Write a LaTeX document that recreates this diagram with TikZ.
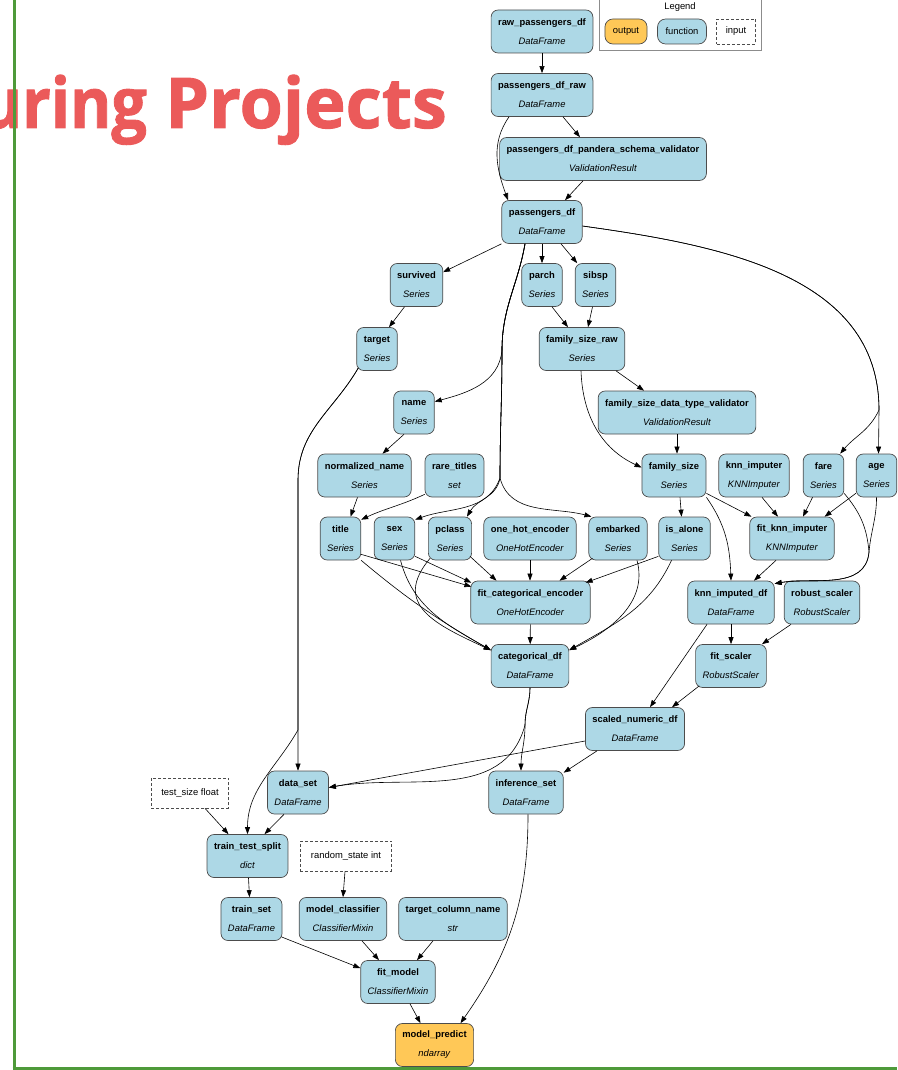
\documentclass[tikz,border=0pt]{standalone}
\usepackage{fontspec}
\setmainfont{Liberation Sans}
\newfontfamily\titlefont{Open Sans}[BoldFeatures={FakeBold=1.3}]
\usetikzlibrary{arrows.meta,positioning}
\definecolor{fnblue}{HTML}{ADD8E6}
\definecolor{outgold}{HTML}{FFC857}
\definecolor{framegreen}{HTML}{4E9A3A}
\definecolor{titlered}{HTML}{EB5A5A}
\tikzset{>={Triangle[length=7pt,width=5pt]}}
\tikzset{fn/.style={draw=black!70, line width=0.7pt, fill=fnblue, rounded corners=7pt, minimum height=43pt, inner xsep=7pt, align=center, font=\fontsize{9.4}{19}\selectfont}}
\tikzset{outfn/.style={fn, fill=outgold}}
\tikzset{inp/.style={draw=black!70, dash pattern=on 3pt off 2pt, line width=0.7pt, fill=white, minimum height=30pt, inner xsep=10pt, font=\fontsize{9.4}{11}\selectfont}}
\tikzset{pill/.style={draw=black!70, line width=0.7pt, rounded corners=8pt, minimum height=25pt, inner xsep=8pt, font=\fontsize{9.4}{11}\selectfont}}
\tikzset{legendbox/.style={draw=black!45, line width=0.8pt, minimum width=162pt, minimum height=54pt, inner sep=0pt}}
\tikzset{link/.style={->, line width=0.6pt}}
\newcommand{\fnlabel}[2]{\textbf{#1}\\\textit{#2}}

\begin{document}
\begin{tikzpicture}[x=1pt,y=1pt]
      \useasboundingbox (0,0) rectangle (897,-1070);
      \clip (0,0) rectangle (897,-1070);
      \node[anchor=base east, inner sep=0pt, text=titlered, font=\titlefont\bfseries\fontsize{70}{70}\selectfont] (heading) at (447,-128) {\scalebox{0.9}[1]{turing} Projects};
      \draw[framegreen, line width=3.5pt] (14.3,0) -- (14.3,-1070);
      \draw[framegreen, line width=3pt] (12.5,-1068.5) -- (897,-1068.5);

      \node[legendbox] (legend) at (680,-23) {};
      \node[font=\fontsize{9.4}{11}\selectfont] (legendtitle) at (680,-7) {Legend};
      \node[pill, fill=outgold] (legout) at (626,-31.5) {output};
      \node[pill, fill=fnblue] (legfn) at (682,-31.5) {function};
      \node[inp, minimum height=25pt, inner xsep=9pt] (leginp) at (736,-31.5) {input};

      \node[fn] (rawdf) at (542,-31.5) {\fnlabel{raw\_passengers\_df}{DataFrame}};
      \node[fn] (dfraw) at (542,-95) {\fnlabel{passengers\_df\_raw}{DataFrame}};
      \node[fn] (pandera) at (603,-159) {\fnlabel{passengers\_df\_pandera\_schema\_validator}{ValidationResult}};
      \node[fn] (df) at (542,-222) {\fnlabel{passengers\_df}{DataFrame}};
      \node[fn] (survived) at (416.5,-285) {\fnlabel{survived}{Series}};
      \node[fn] (parch) at (542,-285) {\fnlabel{parch}{Series}};
      \node[fn] (sibsp) at (595.5,-285) {\fnlabel{sibsp}{Series}};
      \node[fn] (target) at (377,-349) {\fnlabel{target}{Series}};
      \node[fn] (famraw) at (582,-349) {\fnlabel{family\_size\_raw}{Series}};
      \node[fn] (namenode) at (414,-412.5) {\fnlabel{name}{Series}};
      \node[fn] (famcheck) at (677,-412.5) {\fnlabel{family\_size\_data\_type\_validator}{ValidationResult}};
      \node[fn] (normname) at (364.5,-475.5) {\fnlabel{normalized\_name}{Series}};
      \node[fn] (raretitles) at (454.5,-475.5) {\fnlabel{rare\_titles}{set}};
      \node[fn] (famsize) at (674,-475.5) {\fnlabel{family\_size}{Series}};
      \node[fn] (knnimputer) at (754,-475.5) {\fnlabel{knn\_imputer}{KNNImputer}};
      \node[fn] (fare) at (823.5,-475.5) {\fnlabel{fare}{Series}};
      \node[fn] (age) at (876.5,-475.5) {\fnlabel{age}{Series}};
      \node[fn] (title) at (340.5,-538.5) {\fnlabel{title}{Series}};
      \node[fn] (sex) at (394.5,-538.5) {\fnlabel{sex}{Series}};
      \node[fn] (pclass) at (450,-538.5) {\fnlabel{pclass}{Series}};
      \node[fn] (onehot) at (530,-538.5) {\fnlabel{one\_hot\_encoder}{OneHotEncoder}};
      \node[fn] (embarked) at (618,-538.5) {\fnlabel{embarked}{Series}};
      \node[fn] (isalone) at (684.5,-538.5) {\fnlabel{is\_alone}{Series}};
      \node[fn] (fitknn) at (792,-538.5) {\fnlabel{fit\_knn\_imputer}{KNNImputer}};
      \node[fn] (fitenc) at (530.5,-602.5) {\fnlabel{fit\_categorical\_encoder}{OneHotEncoder}};
      \node[fn] (knndf) at (731,-602.5) {\fnlabel{knn\_imputed\_df}{DataFrame}};
      \node[fn] (robust) at (822,-602.5) {\fnlabel{robust\_scaler}{RobustScaler}};
      \node[fn] (catdf) at (530,-666) {\fnlabel{categorical\_df}{DataFrame}};
      \node[fn] (fitscaler) at (731,-666) {\fnlabel{fit\_scaler}{RobustScaler}};
      \node[fn] (scaleddf) at (635,-729) {\fnlabel{scaled\_numeric\_df}{DataFrame}};
      \node[inp] (testsize) at (190,-793) {test\_size float};
      \node[fn] (dataset) at (298,-792.5) {\fnlabel{data\_set}{DataFrame}};
      \node[fn] (infset) at (526,-792.5) {\fnlabel{inference\_set}{DataFrame}};
      \node[fn] (tts) at (247.5,-856) {\fnlabel{train\_test\_split}{dict}};
      \node[inp, inner xsep=10.5pt] (randstate) at (346,-856) {random\_state int};
      \node[fn] (trainset) at (251.5,-919) {\fnlabel{train\_set}{DataFrame}};
      \node[fn] (modelclf) at (343,-919) {\fnlabel{model\_classifier}{ClassifierMixin}};
      \node[fn] (targetcol) at (453,-919) {\fnlabel{target\_column\_name}{str}};
      \node[fn] (fitmodel) at (398,-982) {\fnlabel{fit\_model}{ClassifierMixin}};
      \node[outfn] (predict) at (434.5,-1045) {\fnlabel{model\_predict}{ndarray}};

      \coordinate (lbend) at (502,-350);
      \coordinate (cfork) at (500,-478);
      \coordinate (rbend) at (879,-410);
      \coordinate (kbend) at (869,-552);
      \coordinate (tbend) at (298,-480);
      \coordinate (tfork) at (298,-730);
      \coordinate (cbend) at (525,-725);

      \draw[link] (rawdf) -- (dfraw);
      \draw[link] ([xshift=21pt]dfraw.south) -- ([xshift=-23pt]pandera.north);
      \draw[link] ([xshift=-33pt]dfraw.south) to[out=-125,in=110] ([xshift=-34pt]df.north);
      \draw[link] ([xshift=-20pt]pandera.south) -- ([xshift=23pt]df.north);
      \draw[link] (df.south west) -- (survived);
      \draw[link] (df.south) -- (parch);
      \draw[link] ([xshift=19pt]df.south) -- (sibsp);
      \draw[link] ([yshift=-4pt]df.east) to[out=-8,in=90] (rbend) to[out=-115,in=50] ([xshift=-4pt]fare.north east);
      \draw[link] ([yshift=-4pt]df.east) to[out=-8,in=90] (rbend) -- ([xshift=2pt]age.north);
      \draw[link] ([xshift=-17pt]df.south) to[out=-100,in=90] (lbend) to[out=-95,in=15] ([yshift=-11pt]namenode.north east);
      \draw[link] ([xshift=-17pt]df.south) to[out=-100,in=90] (lbend) to[out=-90,in=90] (cfork) to[out=-110,in=20] ([yshift=-3pt]sex.north east);
      \draw[link] ([xshift=-17pt]df.south) to[out=-100,in=90] (lbend) to[out=-90,in=90] (cfork) to[out=-100,in=60] ([xshift=-5pt]pclass.north east);
      \draw[link] ([xshift=-17pt]df.south) to[out=-100,in=90] (lbend) to[out=-90,in=90] (cfork) to[out=-75,in=165] ([xshift=3pt]embarked.north west);
      \draw[link] ([xshift=-12pt]survived.south) -- ([xshift=12pt]target.north);
      \draw[link] ([xshift=2pt,yshift=3pt]target.south west) to[out=-120,in=90] (tbend) -- (tfork) -- (dataset.north);
      \draw[link] ([xshift=2pt,yshift=3pt]target.south west) to[out=-120,in=90] (tbend) -- (tfork) to[out=-120,in=90] (tts.north);
      \draw[link] ([xshift=10pt]parch.south) -- ([xshift=-14pt]famraw.north);
      \draw[link] ([xshift=-3pt]sibsp.south) -- ([xshift=6pt]famraw.north);
      \draw[link] ([xshift=34pt]famraw.south) -- ([xshift=-33pt]famcheck.north);
      \draw[link] ([xshift=-1pt]famraw.south) to[out=-88,in=155] ([yshift=8pt]famsize.west);
      \draw[link] (famcheck.south) -- ([xshift=3pt]famsize.north);
      \draw[link] ([xshift=-10pt]namenode.south) -- ([xshift=18pt]normname.north);
      \draw[link] ([xshift=-7pt]normname.south) -- ([xshift=10pt]title.north);
      \draw[link] ([yshift=3pt]raretitles.south west) to[out=-155,in=25] ([yshift=-3pt]title.north east);
      \draw[link] ([xshift=6pt]famsize.south) -- ([xshift=-3pt]isalone.north);
      \draw[link] ([yshift=4pt]famsize.south east) -- ([xshift=2pt]fitknn.north west);
      \draw[link] (famsize.south east) to[out=-55,in=92] (knndf.north);
      \draw[link] ([xshift=8pt]knnimputer.south) -- ([xshift=-14pt]fitknn.north);
      \draw[link] ([xshift=-11pt]fare.south) -- ([xshift=11pt]fitknn.north);
      \draw[link] ([yshift=4pt]age.south west) -- ([xshift=-10pt]fitknn.north east);
      \draw[link] ([xshift=-16pt]fitknn.south) -- ([xshift=23pt]knndf.north);
      \draw[link] ([yshift=4pt]fare.south east) to[out=-50,in=95] (kbend) to[out=-95,in=10] ([yshift=-3pt]knndf.north east);
      \draw[link] (age.south) to[out=-90,in=85] (kbend) to[out=-95,in=10] ([yshift=-3pt]knndf.north east);
      \draw[link] ([yshift=6pt]title.south east) -- ([xshift=1pt,yshift=-6pt]fitenc.north west);
      \draw[link] ([yshift=4pt]sex.south east) -- ([xshift=1pt,yshift=-2pt]fitenc.north west);
      \draw[link] ([xshift=-2pt,yshift=4pt]pclass.south east) -- ([xshift=-34pt]fitenc.north);
      \draw[link] (onehot.south) -- (onehot.south |- fitenc.north);
      \draw[link] ([xshift=4pt,yshift=2pt]embarked.south west) -- ([xshift=29pt]fitenc.north);
      \draw[link] ([yshift=4pt]isalone.south west) -- ([xshift=-5pt,yshift=-2pt]fitenc.north east);
      \draw[link] (fitenc) -- (catdf);
      \draw[link] (title.south east) to[out=-40,in=150] ([yshift=-6pt]catdf.north west);
      \draw[link] ([xshift=6pt]sex.south) to[out=-75,in=150] ([yshift=-6pt]catdf.north west);
      \draw[link] ([xshift=2pt,yshift=2pt]pclass.south west) to[out=-130,in=155,looseness=1.4] ([yshift=-6pt]catdf.north west);
      \draw[link] ([xshift=19pt]embarked.south) to[out=-75,in=25] ([yshift=-6pt]catdf.north east);
      \draw[link] ([xshift=-13pt]isalone.south) to[out=-115,in=30] ([yshift=-6pt]catdf.north east);
      \draw[link] (knndf.south) -- (fitscaler.north);
      \draw[link] ([xshift=-31pt]robust.south) -- ([xshift=31pt]fitscaler.north);
      \draw[link] ([xshift=-24pt]knndf.south) -- ([xshift=15pt]scaleddf.north);
      \draw[link] ([xshift=4pt,yshift=2pt]fitscaler.south west) -- ([xshift=37pt]scaleddf.north);
      \draw[link] ([yshift=-12pt]scaleddf.west) -- ([yshift=5pt]dataset.east);
      \draw[link] ([xshift=-38pt]scaleddf.south) -- ([yshift=-2pt]infset.north east);
      \draw[link] (catdf.south) to[out=-90,in=90] (cbend) to[out=-90,in=90] ([xshift=-5pt]infset.north);
      \draw[link] (catdf.south) to[out=-90,in=90] (cbend) to[out=-105,in=10] ([yshift=5pt]dataset.east);
      \draw[link] ([xshift=-14pt]dataset.south) -- ([xshift=17pt]tts.north);
      \draw[link] ([xshift=15pt]testsize.south) -- ([xshift=-19pt]tts.north);
      \draw[link] ([xshift=1pt]tts.south) -- ([xshift=-2pt]trainset.north);
      \draw[link] ([xshift=-1pt]randstate.south) -- (modelclf.north);
      \draw[link] ([xshift=-1pt,yshift=4pt]trainset.south east) -- ([yshift=-8pt]fitmodel.north west);
      \draw[link] ([xshift=19pt]modelclf.south) -- ([xshift=-19pt]fitmodel.north);
      \draw[link] ([xshift=-20pt]targetcol.south) -- ([xshift=19pt]fitmodel.north);
      \draw[link] ([xshift=12pt]fitmodel.south) -- ([xshift=-14pt]predict.north);
      \draw[link] ([xshift=2pt]infset.south) to[out=-90,in=55] ([xshift=26pt]predict.north);
\end{tikzpicture}
\end{document}
